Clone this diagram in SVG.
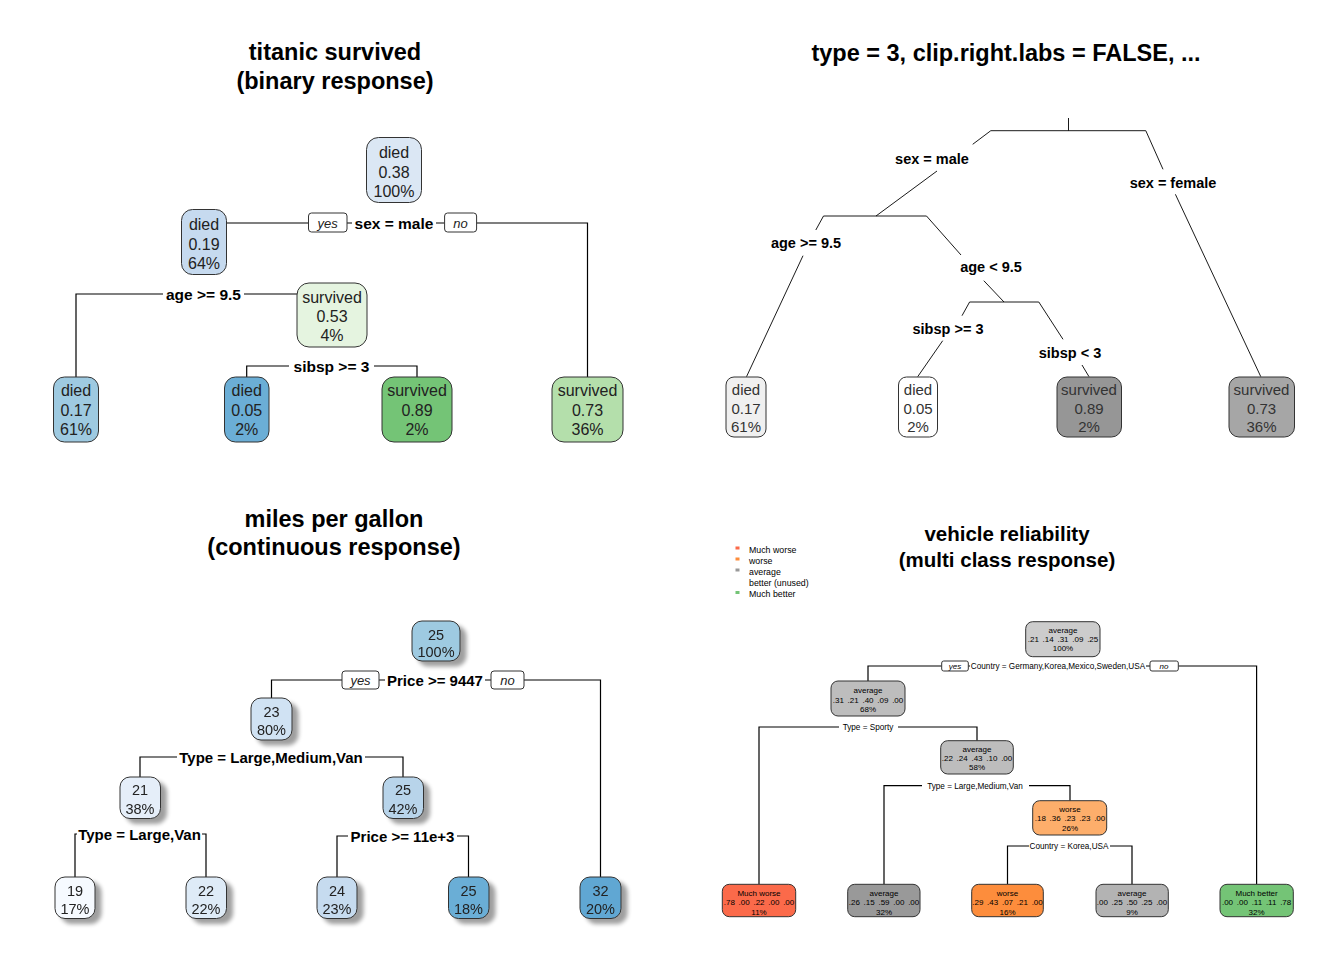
<svg xmlns="http://www.w3.org/2000/svg" width="1344" height="960" viewBox="0 0 1344 960">
<defs>
<style>
text{font-family:"Liberation Sans",Arial,sans-serif;text-anchor:middle}
.t{font-size:23.5px;font-weight:bold;fill:#000}
.t2{font-size:20.5px;font-weight:bold;fill:#000}
.c{fill:none;stroke:#000;stroke-width:1.2}
.c2{fill:none;stroke:#000;stroke-width:0.9}
.b{stroke:#333;stroke-width:1}
.n1{font-size:16px;fill:#222}
.l1{font-size:15.5px;font-weight:bold;fill:#000}
.yn{fill:#fff;stroke:#333;stroke-width:1}
.y1{font-size:13px;font-style:italic;fill:#222}
.n2{font-size:15px;fill:#333}
.l2{font-size:14.5px;font-weight:bold;fill:#000}
.n3{font-size:14.5px;fill:#222}
.l3{font-size:15px;font-weight:bold;fill:#000}
.n4{font-size:8px;fill:#000}
.n4.v{word-spacing:1.5px}
.l4{font-size:8.2px;fill:#000}
.y4{font-size:8px;font-style:italic;fill:#000}
.lg{font-size:8.8px;fill:#000;text-anchor:start}
</style>
<filter id="sh" x="-30%" y="-30%" width="180%" height="180%">
<feGaussianBlur in="SourceAlpha" stdDeviation="2.2"/>
<feOffset dx="6" dy="5" result="o"/>
<feComponentTransfer><feFuncA type="linear" slope="0.38"/></feComponentTransfer>
<feMerge><feMergeNode/><feMergeNode in="SourceGraphic"/></feMerge>
</filter>
</defs>
<rect width="1344" height="960" fill="#fff"/>

<!-- titles -->
<g id="titles">
<text class="t" x="335" y="60">titanic survived</text>
<text class="t" x="335" y="89">(binary response)</text>
<text class="t" x="1006" y="61">type = 3, clip.right.labs = FALSE, ...</text>
<text class="t" x="334" y="527">miles per gallon</text>
<text class="t" x="334" y="555">(continuous response)</text>
<text class="t2" x="1007" y="541">vehicle reliability</text>
<text class="t2" x="1007" y="567">(multi class response)</text>
</g>

<!-- ============ Panel 1: titanic ============ -->
<g id="p1-connectors">
<path class="c" d="M226 223H308.5M347 223H352M436 223H444.6M476.5 223H587.5V377"/>
<path class="c" d="M76 377V294H163M244 294H297"/>
<path class="c" d="M246.7 377V366H289M374 366H417V377"/>
<rect class="yn" x="308.5" y="213" width="38.5" height="19" rx="3"/>
<text class="y1" x="327.7" y="227.5">yes</text>
<rect class="yn" x="444.6" y="213" width="32" height="19" rx="3"/>
<text class="y1" x="460.6" y="227.5">no</text>
<text class="l1" x="394" y="229">sex = male</text>
<text class="l1" x="203.5" y="300">age &gt;= 9.5</text>
<text class="l1" x="331.5" y="372">sibsp &gt;= 3</text>
</g>
<g id="p1-root">
<rect class="b" x="366.5" y="137.5" width="55" height="65" rx="12" fill="#dbe7f4"/>
<text class="n1" x="394" y="158">died</text><text class="n1" x="394" y="177.5">0.38</text><text class="n1" x="394" y="197">100%</text>
</g>
<g id="p1-n2">
<rect class="b" x="181.5" y="209.5" width="45" height="65" rx="11" fill="#c6daef"/>
<text class="n1" x="204" y="229.5">died</text><text class="n1" x="204" y="249.5">0.19</text><text class="n1" x="204" y="268.5">64%</text>
</g>
<g id="p1-n5">
<rect class="b" x="297" y="283" width="70" height="64" rx="12" fill="#e5f4e0"/>
<text class="n1" x="332" y="302.5">survived</text><text class="n1" x="332" y="321.5">0.53</text><text class="n1" x="332" y="340.5">4%</text>
</g>
<g id="p1-l1">
<rect class="b" x="53.5" y="377" width="45" height="65" rx="11" fill="#9ecae1"/>
<text class="n1" x="76" y="395.5">died</text><text class="n1" x="76" y="415.5">0.17</text><text class="n1" x="76" y="434.5">61%</text>
</g>
<g id="p1-l2">
<rect class="b" x="224.5" y="377" width="44.5" height="65" rx="11" fill="#6baed6"/>
<text class="n1" x="246.7" y="395.5">died</text><text class="n1" x="246.7" y="415.5">0.05</text><text class="n1" x="246.7" y="434.5">2%</text>
</g>
<g id="p1-l3">
<rect class="b" x="382" y="377" width="70" height="65" rx="12" fill="#74c476"/>
<text class="n1" x="417" y="395.5">survived</text><text class="n1" x="417" y="415.5">0.89</text><text class="n1" x="417" y="434.5">2%</text>
</g>
<g id="p1-l4">
<rect class="b" x="552" y="377" width="71" height="65" rx="12" fill="#b4dfab"/>
<text class="n1" x="587.5" y="395.5">survived</text><text class="n1" x="587.5" y="415.5">0.73</text><text class="n1" x="587.5" y="434.5">36%</text>
</g>

<!-- ============ Panel 2: type=3 ============ -->
<g id="p2-connectors">
<path class="c2" d="M1068.5 118V130.7M990.8 130.7H1145.8M990.8 130.7L972.7 144.3M937 171L876 216M1145.8 130.7L1163 169.3M1175.4 194.3L1260.8 376.7"/>
<path class="c2" d="M823.5 216H926.5M823.5 216L815.8 230M803 255.7L746.5 376.7M926.5 216L961 255M983.8 280.7L1004 302"/>
<path class="c2" d="M969.6 302H1038.8M969.6 302L962 315.7M942.7 340.7L917.7 376.7M1038.8 302L1063 339.3M1082 365L1089 376.7"/>
<text class="l2" x="932" y="164">sex = male</text>
<text class="l2" x="1173" y="188">sex = female</text>
<text class="l2" x="806" y="248">age &gt;= 9.5</text>
<text class="l2" x="991" y="272">age &lt; 9.5</text>
<text class="l2" x="948" y="334">sibsp &gt;= 3</text>
<text class="l2" x="1070" y="358">sibsp &lt; 3</text>
</g>
<g id="p2-l1">
<rect class="b" x="726" y="377" width="40" height="60" rx="8" fill="#f0f0f0"/>
<text class="n2" x="746" y="395">died</text><text class="n2" x="746" y="413.5">0.17</text><text class="n2" x="746" y="432">61%</text>
</g>
<g id="p2-l2">
<rect class="b" x="898.5" y="377" width="39" height="60" rx="8" fill="#ffffff"/>
<text class="n2" x="918" y="395">died</text><text class="n2" x="918" y="413.5">0.05</text><text class="n2" x="918" y="432">2%</text>
</g>
<g id="p2-l3">
<rect class="b" x="1057" y="377" width="64.5" height="60" rx="10" fill="#969696"/>
<text class="n2" x="1089" y="395">survived</text><text class="n2" x="1089" y="413.5">0.89</text><text class="n2" x="1089" y="432">2%</text>
</g>
<g id="p2-l4">
<rect class="b" x="1229" y="377" width="65.5" height="60" rx="10" fill="#a6a6a6"/>
<text class="n2" x="1261.5" y="395">survived</text><text class="n2" x="1261.5" y="413.5">0.73</text><text class="n2" x="1261.5" y="432">36%</text>
</g>

<!-- ============ Panel 3: mpg ============ -->
<g id="p3-connectors">
<path class="c" d="M271.5 698V680H342M379 680H385M485 680H491M524 680H600.5V877"/>
<path class="c" d="M140 777V757H177M365 757H403V777"/>
<path class="c" d="M75 877V834H77M202 834H206V877"/>
<path class="c" d="M337 877V836H348M457 836H468.5V877"/>
<rect class="yn" x="342" y="671" width="37" height="18" rx="3"/>
<text class="y1" x="360.5" y="685">yes</text>
<rect class="yn" x="491" y="671" width="33" height="18" rx="3"/>
<text class="y1" x="507.5" y="685">no</text>
<text class="l3" x="435" y="686">Price &gt;= 9447</text>
<text class="l3" x="271" y="762.5">Type = Large,Medium,Van</text>
<text class="l3" x="139.5" y="839.5">Type = Large,Van</text>
<text class="l3" x="402.5" y="841.5">Price &gt;= 11e+3</text>
</g>
<g id="p3-root" filter="url(#sh)">
<rect class="b" x="412" y="621" width="48" height="40" rx="10" fill="#9ecae1"/>
<text class="n3" x="436" y="639.5">25</text><text class="n3" x="436" y="657">100%</text>
</g>
<g id="p3-n2" filter="url(#sh)">
<rect class="b" x="251" y="698" width="41" height="42" rx="10" fill="#d0e2f3"/>
<text class="n3" x="271.5" y="716.5">23</text><text class="n3" x="271.5" y="734.5">80%</text>
</g>
<g id="p3-n4" filter="url(#sh)">
<rect class="b" x="120" y="777" width="40.5" height="41.5" rx="10" fill="#e5eef9"/>
<text class="n3" x="140" y="795">21</text><text class="n3" x="140" y="813.5">38%</text>
</g>
<g id="p3-n5" filter="url(#sh)">
<rect class="b" x="383" y="777" width="40.5" height="41.5" rx="10" fill="#b8d4ea"/>
<text class="n3" x="403" y="795">25</text><text class="n3" x="403" y="813.5">42%</text>
</g>
<g id="p3-l1" filter="url(#sh)">
<rect class="b" x="55" y="877" width="40" height="41.5" rx="10" fill="#f6faff"/>
<text class="n3" x="75" y="895.5">19</text><text class="n3" x="75" y="913.5">17%</text>
</g>
<g id="p3-l2" filter="url(#sh)">
<rect class="b" x="186" y="877" width="40.5" height="41.5" rx="10" fill="#deebf7"/>
<text class="n3" x="206" y="895.5">22</text><text class="n3" x="206" y="913.5">22%</text>
</g>
<g id="p3-l3" filter="url(#sh)">
<rect class="b" x="317" y="877" width="40" height="41.5" rx="10" fill="#c6dbef"/>
<text class="n3" x="337" y="895.5">24</text><text class="n3" x="337" y="913.5">23%</text>
</g>
<g id="p3-l4" filter="url(#sh)">
<rect class="b" x="448.5" y="877" width="40.5" height="41.5" rx="10" fill="#6baed6"/>
<text class="n3" x="468.5" y="895.5">25</text><text class="n3" x="468.5" y="913.5">18%</text>
</g>
<g id="p3-l5" filter="url(#sh)">
<rect class="b" x="580" y="877" width="41" height="41.5" rx="10" fill="#60a7d3"/>
<text class="n3" x="600.5" y="895.5">32</text><text class="n3" x="600.5" y="913.5">20%</text>
</g>

<!-- ============ Panel 4: vehicle reliability ============ -->
<g id="p4-legend">
<rect x="735.5" y="546.5" width="4" height="3" fill="#fb6a4a"/>
<text class="lg" x="749" y="553">Much worse</text>
<rect x="735.5" y="557.5" width="4" height="3" fill="#fd8d3c"/>
<text class="lg" x="749" y="564">worse</text>
<rect x="735.5" y="568.5" width="4" height="3" fill="#999999"/>
<text class="lg" x="749" y="575">average</text>
<text class="lg" x="749" y="586">better (unused)</text>
<rect x="735.5" y="591" width="4" height="3" fill="#74c476"/>
<text class="lg" x="749" y="597">Much better</text>
</g>
<g id="p4-connectors">
<path class="c" d="M868 681V666H941.7M968.3 666H970M1146 666H1150M1178.3 666H1256.6V884.3"/>
<path class="c" d="M759 884.3V727H839M898 727H977V740.7"/>
<path class="c" d="M884 884.3V785.7H922M1029 785.7H1070V800.7"/>
<path class="c" d="M1007.5 884.3V846H1029M1110 846H1132V884.3"/>
<rect class="yn" x="941.7" y="661" width="26.6" height="10" rx="2"/>
<text class="y4" x="955" y="669">yes</text>
<rect class="yn" x="1150" y="661" width="28.3" height="10" rx="2"/>
<text class="y4" x="1164" y="669">no</text>
<text class="l4" x="1058" y="669">Country = Germany,Korea,Mexico,Sweden,USA</text>
<text class="l4" x="868" y="730">Type = Sporty</text>
<text class="l4" x="975" y="788.7">Type = Large,Medium,Van</text>
<text class="l4" x="1069" y="849">Country = Korea,USA</text>
</g>
<g id="p4-root">
<rect class="b" x="1025.7" y="621.7" width="74.3" height="35" rx="7" fill="#cccccc"/>
<text class="n4" x="1063" y="633">average</text><text class="n4 v" x="1063" y="642.3">.21 .14 .31 .09 .25</text><text class="n4" x="1063" y="650.5">100%</text>
</g>
<g id="p4-n2">
<rect class="b" x="831" y="681" width="74" height="35" rx="7" fill="#bdbdbd"/>
<text class="n4" x="868" y="693">average</text><text class="n4 v" x="868" y="703">.31 .21 .40 .09 .00</text><text class="n4" x="868" y="712">68%</text>
</g>
<g id="p4-n5">
<rect class="b" x="940.7" y="740.7" width="72.6" height="33.3" rx="7" fill="#bdbdbd"/>
<text class="n4" x="977" y="752.3">average</text><text class="n4 v" x="977" y="761">.22 .24 .43 .10 .00</text><text class="n4" x="977" y="770.3">58%</text>
</g>
<g id="p4-n11">
<rect class="b" x="1032.7" y="800.7" width="74" height="34.3" rx="7" fill="#fdae6b"/>
<text class="n4" x="1070" y="812.3">worse</text><text class="n4 v" x="1070" y="821.3">.18 .36 .23 .23 .00</text><text class="n4" x="1070" y="830.7">26%</text>
</g>
<g id="p4-l1">
<rect class="b" x="722.3" y="884.3" width="73.4" height="32.4" rx="7" fill="#fb6a4a"/>
<text class="n4" x="759" y="895.7">Much worse</text><text class="n4 v" x="759" y="905.3">.78 .00 .22 .00 .00</text><text class="n4" x="759" y="914.7">11%</text>
</g>
<g id="p4-l2">
<rect class="b" x="847.7" y="884.3" width="72.3" height="32.4" rx="7" fill="#999999"/>
<text class="n4" x="884" y="895.7">average</text><text class="n4 v" x="884" y="905.3">.26 .15 .59 .00 .00</text><text class="n4" x="884" y="914.7">32%</text>
</g>
<g id="p4-l3">
<rect class="b" x="971.7" y="884.3" width="71.6" height="32.4" rx="7" fill="#fd8d3c"/>
<text class="n4" x="1007.5" y="895.7">worse</text><text class="n4 v" x="1007.5" y="905.3">.29 .43 .07 .21 .00</text><text class="n4" x="1007.5" y="914.7">16%</text>
</g>
<g id="p4-l4">
<rect class="b" x="1096" y="884.3" width="72.3" height="32.4" rx="7" fill="#b3b3b3"/>
<text class="n4" x="1132" y="895.7">average</text><text class="n4 v" x="1132" y="905.3">.00 .25 .50 .25 .00</text><text class="n4" x="1132" y="914.7">9%</text>
</g>
<g id="p4-l5">
<rect class="b" x="1220" y="884.3" width="73.3" height="32.4" rx="7" fill="#74c476"/>
<text class="n4" x="1256.6" y="895.7">Much better</text><text class="n4 v" x="1256.6" y="905.3">.00 .00 .11 .11 .78</text><text class="n4" x="1256.6" y="914.7">32%</text>
</g>
</svg>
